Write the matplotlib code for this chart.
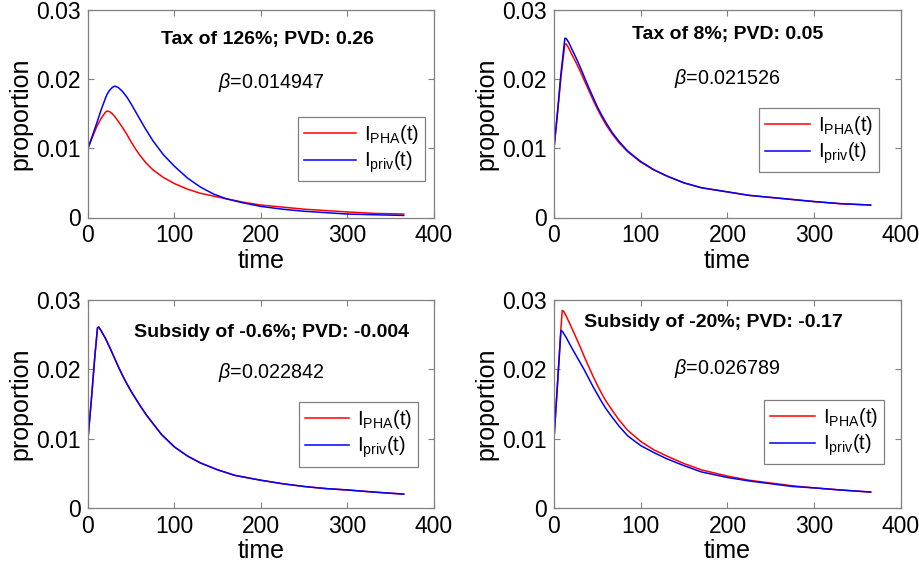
import matplotlib
matplotlib.use("Agg")
from matplotlib import pyplot as plt

plt.rcParams['font.family'] = ['Liberation Sans', 'DejaVu Sans']
plt.rcParams['mathtext.fontset'] = 'custom'
plt.rcParams['mathtext.rm'] = 'Liberation Sans'
plt.rcParams['mathtext.it'] = 'Liberation Sans:italic'

# panel 1: tax of 126%
t1 = [0, 5, 10, 15, 20, 22, 25, 28, 31, 35, 40, 45, 50, 55, 60, 67, 75, 87, 100, 115, 130, 145, 160, 180,
      200, 225, 250, 275, 300, 330, 365]
pha1 = [0.0100, 0.0116, 0.0131, 0.0143, 0.0152, 0.0154, 0.0153, 0.0150, 0.0146, 0.0139, 0.0130, 0.0120,
        0.0109, 0.0099, 0.0090, 0.0079, 0.0069, 0.0058, 0.0049, 0.0041, 0.0035, 0.0031, 0.0027, 0.0022,
        0.0018, 0.0015, 0.0012, 0.0010, 0.0008, 0.0006, 0.0005]
priv1 = [0.0100, 0.0118, 0.0136, 0.0155, 0.0172, 0.0178, 0.0184, 0.0188, 0.0190, 0.0188, 0.0182, 0.0174,
         0.0164, 0.0153, 0.0142, 0.0127, 0.0111, 0.0091, 0.0074, 0.0057, 0.0044, 0.0034, 0.0027, 0.0021,
         0.0016, 0.0012, 0.0009, 0.0007, 0.0005, 0.0004, 0.0003]

# panel 2: tax of 8%
t2 = [0, 4, 8, 12.5, 14, 17, 20, 25, 30, 35, 40, 45, 50, 55, 60, 67, 75, 85, 100, 115, 130, 150, 170,
      200, 225, 250, 275, 300, 330, 365]
pha2 = [0.0100, 0.0150, 0.0203, 0.0251, 0.0251, 0.0245, 0.0237, 0.0225, 0.0212, 0.0198, 0.0184, 0.0170,
        0.0157, 0.0145, 0.0134, 0.0121, 0.0108, 0.0095, 0.0080, 0.0069, 0.0060, 0.0050, 0.0043,
        0.0037, 0.0032, 0.0029, 0.0026, 0.0023, 0.0020, 0.0018]
priv2 = [0.0100, 0.0152, 0.0208, 0.0259, 0.0259, 0.0253, 0.0245, 0.0232, 0.0218, 0.0203, 0.0188, 0.0174,
         0.0160, 0.0148, 0.0137, 0.0123, 0.0110, 0.0096, 0.0081, 0.0069, 0.0060, 0.0050, 0.0043,
         0.0037, 0.0032, 0.0029, 0.0026, 0.0023, 0.0020, 0.0018]

# panel 3: subsidy of -0.6%
t3 = [0, 4, 8, 11, 12.5, 15, 20, 25, 30, 35, 40, 45, 50, 55, 60, 67, 75, 85, 100, 115, 130, 150, 170,
      200, 225, 250, 275, 300, 330, 365]
pha3 = [0.0100, 0.0158, 0.0220, 0.0260, 0.0261, 0.0256, 0.0245, 0.0232, 0.0218, 0.0204, 0.0191, 0.0179,
        0.0168, 0.0158, 0.0148, 0.0135, 0.0122, 0.0106, 0.0088, 0.0075, 0.0065, 0.0055, 0.0047,
        0.0040, 0.0035, 0.0031, 0.0028, 0.0026, 0.0023, 0.0020]
priv3 = [0.0100, 0.0158, 0.0220, 0.0260, 0.0261, 0.0256, 0.0245, 0.0232, 0.0218, 0.0204, 0.0191, 0.0179,
         0.0168, 0.0158, 0.0148, 0.0135, 0.0122, 0.0106, 0.0088, 0.0075, 0.0065, 0.0055, 0.0047,
         0.0040, 0.0035, 0.0031, 0.0028, 0.0026, 0.0023, 0.0020]

# panel 4: subsidy of -20%
t4 = [0, 3, 6, 8, 9.5, 11, 14, 17, 20, 25, 30, 35, 40, 45, 50, 55, 60, 67, 75, 85, 100, 115, 130, 150,
      170, 200, 225, 250, 275, 300, 330, 365]
pha4 = [0.0100, 0.0160, 0.0220, 0.0259, 0.0285, 0.0284, 0.0277, 0.0269, 0.0261, 0.0247, 0.0233, 0.0218,
        0.0204, 0.0190, 0.0177, 0.0165, 0.0154, 0.0141, 0.0127, 0.0112, 0.0096, 0.0084, 0.0075, 0.0064,
        0.0055, 0.0046, 0.0040, 0.0036, 0.0032, 0.0029, 0.0026, 0.0023]
priv4 = [0.0100, 0.0158, 0.0216, 0.0256, 0.0255, 0.0252, 0.0246, 0.0239, 0.0232, 0.0221, 0.0210, 0.0199,
         0.0187, 0.0175, 0.0164, 0.0153, 0.0143, 0.0131, 0.0118, 0.0104, 0.0090, 0.0080, 0.0071, 0.0061,
         0.0052, 0.0044, 0.0039, 0.0035, 0.0031, 0.0029, 0.0026, 0.0023]

titles = ['Tax of 126%; PVD: 0.26', 'Tax of 8%; PVD: 0.05',
          'Subsidy of -0.6%; PVD: -0.004', 'Subsidy of -20%; PVD: -0.17']
betas = ['0.014947', '0.021526', '0.022842', '0.026789']
xticks = [0, 100, 200, 300, 400]
yticks = [0, 0.01, 0.02, 0.03]
yticklabels = ['0', '0.01', '0.02', '0.03']

fig = plt.figure(figsize=(9.2, 5.72), dpi=100)
W, H = 920.0, 572.0
# axes boxes in pixels: left, top, right, bottom
boxes = [(88, 10, 434, 217.5), (554, 10, 901, 217.5), (88, 300, 434, 508), (554, 300, 901, 508)]
series = [(t1, pha1, priv1), (t2, pha2, priv2), (t3, pha3, priv3), (t4, pha4, priv4)]
title_pos = [(0.52, 0.86), (0.50, 0.88), (0.53, 0.845), (0.46, 0.89)]
beta_pos = [(0.53, 0.65), (0.50, 0.67), (0.53, 0.65), (0.50, 0.67)]
leg_anchor = [(0.975, 0.485), (0.936, 0.53), (0.955, 0.51), (0.95, 0.52)]
handle_len = [2.6, 2.2, 2.2, 2.2]
gray = '#808080'

for i in range(4):
    l, tp, r, b = boxes[i]
    ax = fig.add_axes([l / W, 1 - b / H, (r - l) / W, (b - tp) / H])
    t, pha, priv = series[i]
    ax.plot(t, pha, color='#ff0000', linewidth=1.1, label=r'I$_{\mathrm{PHA}}$(t)')
    ax.plot(t, priv, color='#0000ff', linewidth=1.1, label=r'I$_{\mathrm{priv}}$(t)')
    ax.set_xlim(0, 400)
    ax.set_ylim(0, 0.03)
    ax.set_xticks(xticks)
    ax.set_yticks(yticks)
    ax.set_yticklabels(yticklabels)
    ax.tick_params(direction='in', top=True, right=True, labelsize=16.5, length=4,
                   color=gray, width=0.8)
    ax.tick_params(axis='x', pad=5)
    ax.tick_params(axis='y', pad=5)
    for s in ax.spines.values():
        s.set_color(gray)
        s.set_linewidth(0.9)
    ax.set_xlabel('time', fontsize=18, labelpad=1)
    ax.set_ylabel('proportion', fontsize=18, labelpad=3)
    ax.text(title_pos[i][0], title_pos[i][1], titles[i], transform=ax.transAxes,
            ha='center', va='center', fontsize=14, fontweight='bold')
    ax.text(beta_pos[i][0], beta_pos[i][1], r'$\beta$=' + betas[i], transform=ax.transAxes,
            ha='center', va='center', fontsize=14.2)
    leg = ax.legend(loc='upper right', bbox_to_anchor=leg_anchor[i], fontsize=14.5,
                    handlelength=handle_len[i], fancybox=False, framealpha=1,
                    borderpad=0.3, labelspacing=0.2, handletextpad=0.4, borderaxespad=0)
    leg.get_frame().set_edgecolor(gray)
    leg.get_frame().set_linewidth(0.9)

fig.savefig('out.png', dpi=100)
